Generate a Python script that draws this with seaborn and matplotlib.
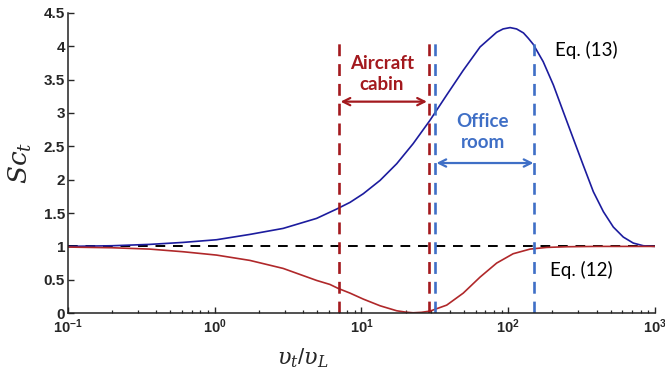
import numpy as np
import pandas as pd
import matplotlib
matplotlib.use("Agg")
import matplotlib.pyplot as plt
from matplotlib.ticker import FixedLocator, FixedFormatter, LogLocator, NullFormatter
import seaborn as sns

# ---- data ----
blue_x = [0.1, 0.2, 0.36, 0.61, 1.03, 1.74, 2.93, 4.95, 6.78, 8.36, 10.3, 13.4, 17.4,
          22.5, 29.3, 38.1, 49.4, 64.3, 83.4, 92.3, 103, 114, 127, 137, 148, 173,
          203, 237, 277, 324, 380, 445, 520, 608, 711, 832, 1000]
blue_y = [1.00, 1.01, 1.03, 1.06, 1.10, 1.18, 1.27, 1.42, 1.56, 1.66, 1.79, 1.99, 2.24,
          2.54, 2.89, 3.27, 3.64, 3.99, 4.21, 4.26, 4.28, 4.26, 4.20, 4.12, 4.03, 3.77,
          3.42, 3.02, 2.62, 2.22, 1.82, 1.52, 1.29, 1.14, 1.05, 1.01, 1.00]

red_x = [0.1, 0.2, 0.36, 0.61, 1.03, 1.74, 2.93, 4.95, 6.1, 6.95, 8.36, 10.3, 13.4,
         17.4, 20, 22.5, 25.7, 29.3, 38.1, 49.4, 64.3, 83.4, 108, 141, 183, 251, 398, 1000]
red_y = [0.99, 0.98, 0.96, 0.92, 0.87, 0.79, 0.67, 0.49, 0.43, 0.37, 0.30, 0.21, 0.11,
         0.035, 0.015, 0.005, 0.012, 0.03, 0.12, 0.30, 0.54, 0.75, 0.89, 0.96, 0.985, 0.995, 1.00, 1.00]

ref_level = 1.0
cabin_range = [7.0, 28.8]
office_range = [31.5, 150.0]
vline_top = 4.05

y_ticks = [0, 0.5, 1, 1.5, 2, 2.5, 3, 3.5, 4, 4.5]
y_tick_labels = ["0", "0.5", "1", "1.5", "2", "2.5", "3", "3.5", "4", "4.5"]
x_ticks = [0.1, 1, 10, 100, 1000]
x_tick_labels = [r"$\mathbf{10^{-1}}$", r"$\mathbf{10^{0}}$", r"$\mathbf{10^{1}}$",
                 r"$\mathbf{10^{2}}$", r"$\mathbf{10^{3}}$"]

# ---- style ----
sns.set_style("ticks")
plt.rcParams["font.family"] = ["Liberation Sans", "DejaVu Sans"]
plt.rcParams["mathtext.fontset"] = "custom"
plt.rcParams["mathtext.rm"] = "Liberation Sans"
plt.rcParams["mathtext.bf"] = "Liberation Sans:bold"
plt.rcParams["mathtext.it"] = "DejaVu Serif:italic"

BLUE_CURVE = "#1c1c9e"
RED_CURVE = "#b0282a"
RED_DASH = "#a3191e"
BLUE_DASH = "#3f6fc6"
TXT_FONT = ["Lato", "DejaVu Sans"]

fig = plt.figure(figsize=(6.65, 3.8), dpi=100)
ax = fig.add_axes([0.102, 0.176, 0.883, 0.79])

df_b = pd.DataFrame({"x": blue_x, "y": blue_y})
df_r = pd.DataFrame({"x": red_x, "y": red_y})
sns.lineplot(data=df_b, x="x", y="y", ax=ax, color=BLUE_CURVE, lw=1.2, estimator=None, sort=True)
sns.lineplot(data=df_r, x="x", y="y", ax=ax, color=RED_CURVE, lw=1.2, estimator=None, sort=True)

ax.set_xscale("log")
ax.set_xlim(0.1, 1000)
ax.set_ylim(0, 4.5)

ax.axhline(ref_level, color="black", lw=1.4, ls=(0, (5, 4)), zorder=1)

for xv in cabin_range:
    ax.plot([xv, xv], [0, vline_top], color=RED_DASH, lw=1.9, ls=(0, (4.5, 3)))
for xv in office_range:
    ax.plot([xv, xv], [0, vline_top], color=BLUE_DASH, lw=1.9, ls=(0, (4.5, 3)))

ax.annotate("", xy=(cabin_range[1] * 0.97, 3.17), xytext=(cabin_range[0] * 1.03, 3.17),
            arrowprops=dict(arrowstyle="<->", color=RED_DASH, lw=1.6,
                            shrinkA=0, shrinkB=0, mutation_scale=13))
ax.annotate("", xy=(office_range[1] * 0.99, 2.25), xytext=(office_range[0] * 1.03, 2.25),
            arrowprops=dict(arrowstyle="<->", color=BLUE_DASH, lw=1.6,
                            shrinkA=0, shrinkB=0, mutation_scale=13))

ax.text(13.8, 3.58, "Aircraft\ncabin", color=RED_DASH, fontsize=13.5, fontweight="bold",
        family=TXT_FONT, ha="center", va="center", linespacing=1.3)
ax.text(67, 2.72, "Office\nroom", color=BLUE_DASH, fontsize=13.5, fontweight="bold",
        family=TXT_FONT, ha="center", va="center", linespacing=1.3)
ax.text(208, 3.94, "Eq. (13)", color="black", fontsize=13.5,
        family=TXT_FONT, ha="left", va="center")
ax.text(193, 0.64, "Eq. (12)", color="black", fontsize=13.5,
        family=TXT_FONT, ha="left", va="center")

ax.yaxis.set_major_locator(FixedLocator(y_ticks))
ax.yaxis.set_major_formatter(FixedFormatter(y_tick_labels))
ax.xaxis.set_major_locator(FixedLocator(x_ticks))
ax.xaxis.set_major_formatter(FixedFormatter(x_tick_labels))
ax.xaxis.set_minor_locator(LogLocator(base=10, subs=np.arange(2, 10)))
ax.xaxis.set_minor_formatter(NullFormatter())

ax.tick_params(axis="y", which="major", direction="in", length=4, width=1,
               labelsize=11, pad=2)
ax.tick_params(axis="x", which="major", direction="in", length=4, width=1,
               labelsize=10.5, pad=3)
ax.tick_params(axis="x", which="minor", direction="in", length=2.5, width=0.9)
for lab in ax.get_yticklabels():
    lab.set_fontweight("bold")

sns.despine(ax=ax)
for s in ["left", "bottom"]:
    ax.spines[s].set_linewidth(1.1)
    ax.spines[s].set_color("#222222")

ax.set_ylabel(r"$Sc_t$", fontsize=19)
ax.yaxis.set_label_coords(-0.058, 0.5)
ax.set_xlabel(r"$\upsilon_t/\upsilon_L$", fontsize=16)
ax.xaxis.set_label_coords(0.40, -0.11)

fig.savefig("out.png", dpi=100)
